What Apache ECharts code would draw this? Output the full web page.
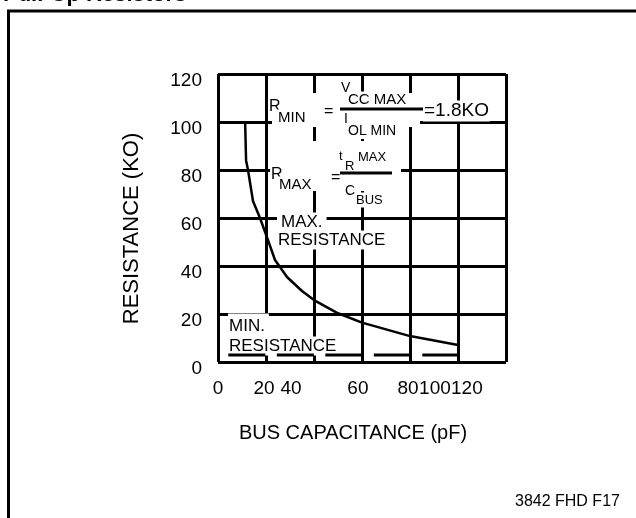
<!DOCTYPE html>
<html><head><meta charset="utf-8">
<script src="https://cdn.jsdelivr.net/npm/echarts@6/dist/echarts.min.js"></script>
<style>html,body{margin:0;padding:0;background:#fff}#c{width:636px;height:518px}</style>
</head><body><div id="c"></div>
<script>
// Max-resistance curve (bus capacitance pF -> resistance kΩ)
const capacitance = [11.3, 11.7, 12.5, 14.6, 17.5, 20.4, 23.75, 28.75, 35, 40, 50, 60, 70, 80, 90, 100];
const resistance  = [100, 84, 80, 67, 60, 52, 42.5, 35.4, 29.6, 25.8, 20.3, 16.4, 13.6, 10.8, 9.0, 7.1];
// Min-resistance dashed line
const minResCap = [4.3, 100];
const minResVal = [2.9, 2.9];
// Axis ticks
const yTickValues = [0, 20, 40, 60, 80, 100, 120];
const xTickLabels = ['0', '20', '40', '60', '80', '100', '120'];
const xTickAt = [0, 19.2, 30.4, 58.3, 79.2, 90.4, 103.7];

const FONT = 'Liberation Sans, Arial, Helvetica, sans-serif';
const chart = echarts.init(document.getElementById('c'), null, {renderer: 'canvas'});

function t(text, x, y, size, extra) {
  return {
    type: 'text', z: 1,
    style: Object.assign({
      text: text, x: x, y: y, font: size + 'px ' + FONT, fill: '#000',
      align: 'left', verticalAlign: 'middle', backgroundColor: '#fff', padding: [1, 1]
    }, extra || {})
  };
}
function hline(x1, x2, y, w, z) {
  return {type: 'line', z: z || 5, shape: {x1: x1, y1: y, x2: x2, y2: y}, style: {stroke: '#000', lineWidth: w}};
}
function vline(x, y1, y2, w) {
  return {type: 'line', z: 5, shape: {x1: x, y1: y1, x2: x, y2: y2}, style: {stroke: '#000', lineWidth: w}};
}
function rect(x, y, w, h) {
  return {type: 'rect', z: 1, shape: {x: x, y: y, width: w, height: h}, style: {fill: '#fff'}};
}

const option = {
  backgroundColor: '#fff',
  animation: false,
  grid: {left: 218, top: 74, width: 288, height: 288, containLabel: false},
  xAxis: [{
    type: 'value', min: 0, max: 120, interval: 20,
    axisLine: {show: false}, axisTick: {show: false}, axisLabel: {show: false},
    splitLine: {show: true, lineStyle: {color: '#000', width: 3}}
  }, {
    type: 'value', min: 0, max: 120, position: 'bottom', gridIndex: 0,
    axisLine: {show: false}, axisTick: {show: false}, splitLine: {show: false},
    axisLabel: {
      show: true, customValues: xTickAt, margin: 17,
      fontFamily: FONT, fontSize: 19, color: '#000',
      formatter: function (v) {
        let best = 0;
        for (let i = 0; i < xTickAt.length; i++) if (Math.abs(xTickAt[i] - v) < Math.abs(xTickAt[best] - v)) best = i;
        return xTickLabels[best];
      }
    }
  }],
  yAxis: {
    type: 'value', min: 0, max: 120, interval: 20,
    axisLine: {show: false}, axisTick: {show: false},
    axisLabel: {show: true, margin: 16, fontFamily: FONT, fontSize: 19, color: '#000',
      verticalAlign: 'top', lineHeight: 13,
      formatter: function (v) { return yTickValues.indexOf(v) >= 0 ? String(v) : ''; }},
    splitLine: {show: true, lineStyle: {color: '#000', width: 3}}
  },
  series: [{
    type: 'line', xAxisIndex: 0, z: 3, symbol: 'none', smooth: false,
    data: capacitance.map((c, i) => [c, resistance[i]]),
    lineStyle: {color: '#000', width: 2.5}
  }, {
    type: 'line', xAxisIndex: 0, z: 3, symbol: 'none',
    data: minResCap.map((c, i) => [c, minResVal[i]]),
    lineStyle: {color: '#000', width: 3, type: [37, 11.5]}
  }],
  graphic: [
    // outer frame
    hline(7, 636, 11, 3), vline(8.5, 10, 518, 3),
    {type: 'text', z: 5, style: {text: 'Pull-Up Resistors', x: 3, y: -5, font: 'bold 22px ' + FONT, fill: '#000', verticalAlign: 'middle'}},
    // blanking boxes behind formulas
    rect(272, 93, 148, 34), rect(272, 141, 129, 50),
    // R_MIN formula
    t('R', 268, 107, 16), t('MIN', 277, 118, 15), t('=', 323, 112, 16),
    t('V', 340, 88, 14), t('CC MAX', 347, 100, 15),
    hline(340, 423, 109, 3, 2),
    t('I', 343, 119, 14), t('OL MIN', 347, 131, 14),
    t('=1.8KO', 423, 111, 19),
    // R_MAX formula
    t('R', 270, 175, 16), t('MAX', 278, 185, 15), t('=', 330, 178, 16),
    t('t', 338, 156, 13), t('R', 344, 166, 13), t('MAX', 357, 157, 13),
    hline(340, 392, 173, 3, 2),
    t('C', 344, 191, 14), t('BUS', 355, 200, 13),
    // curve labels
    t('MAX.', 277, 222, 17, {padding: [1, 4]}), t('RESISTANCE', 277, 240, 17),
    t('MIN.', 228, 326, 17, {padding: [7, 4, 1, 1]}), t('RESISTANCE', 228, 346, 17),
    // axis titles
    {type: 'text', z: 5, style: {text: 'BUS CAPACITANCE (pF)', x: 353, y: 433, font: '20px ' + FONT, fill: '#000', align: 'center', verticalAlign: 'middle'}},
    {type: 'text', z: 5, x: 132, y: 228.5, rotation: Math.PI / 2,
      style: {text: 'RESISTANCE (KO)', x: 0, y: 0, font: '22px ' + FONT, fill: '#000', align: 'center', verticalAlign: 'middle'}},
    {type: 'text', z: 5, style: {text: '3842 FHD F17', x: 515, y: 502, font: '16px ' + FONT, fill: '#000', align: 'left', verticalAlign: 'middle'}}
  ]
};
chart.setOption(option);
</script>
</body></html>
